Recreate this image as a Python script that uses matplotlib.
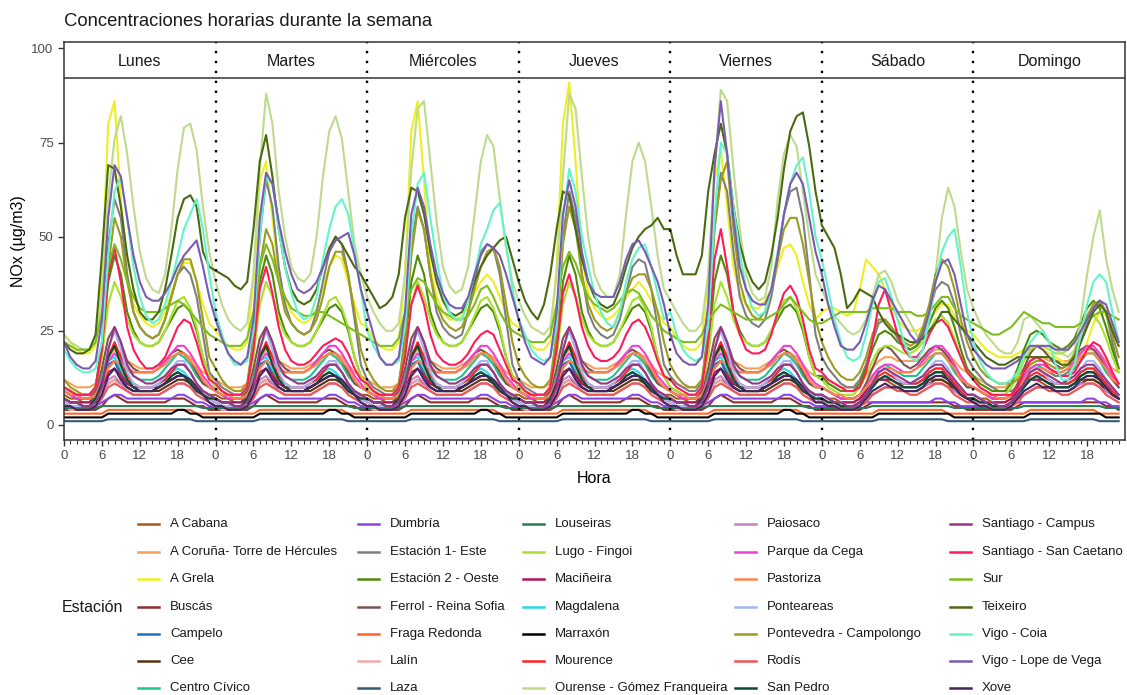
import numpy as np
import matplotlib
matplotlib.use("Agg")
import matplotlib.pyplot as plt
from matplotlib.lines import Line2D

plt.rcParams['font.family'] = ['Liberation Sans', 'DejaVu Sans']

dias = ['Lunes', 'Martes', 'Miércoles', 'Jueves', 'Viernes', 'Sábado', 'Domingo']
horas_tick = [0, 6, 12, 18]

# Full week (Mon..Sun, 24 h each) for the stations with the largest peaks
ourense_gf = [
    24, 22, 21, 20, 20, 22, 35, 60, 76, 82, 72, 58, 46, 39, 36, 35, 40, 52, 68, 79, 80, 73, 58, 46,
    38, 32, 28, 26, 25, 27, 40, 68, 88, 80, 62, 50, 42, 39, 38, 40, 50, 66, 78, 82, 76, 62, 48, 40,
    34, 30, 27, 25, 25, 27, 40, 68, 84, 86, 70, 54, 42, 37, 35, 36, 42, 56, 70, 77, 74, 60, 47, 38,
    33, 29, 26, 25, 24, 26, 40, 66, 88, 84, 66, 50, 40, 36, 34, 34, 40, 56, 70, 75, 70, 58, 45, 36,
    33, 30, 27, 25, 25, 27, 40, 68, 89, 86, 68, 52, 40, 35, 33, 34, 42, 60, 72, 77, 74, 62, 50, 40,
    36, 32, 29, 27, 25, 24, 25, 28, 34, 40, 41, 38, 33, 30, 27, 24, 22, 30, 40, 55, 63, 58, 46, 36,
    31, 27, 24, 22, 20, 19, 19, 22, 28, 29, 27, 25, 22, 20, 19, 18, 20, 28, 40, 50, 57, 44, 36, 30,
]
a_grela = [
    24, 22, 20, 19, 19, 21, 40, 80, 86, 60, 40, 32, 29, 27, 26, 27, 30, 35, 40, 43, 43, 38, 32, 27,
    25, 23, 21, 20, 20, 22, 38, 65, 70, 55, 40, 33, 30, 28, 27, 28, 31, 36, 42, 45, 44, 38, 32, 27,
    26, 23, 21, 20, 20, 22, 40, 78, 86, 65, 42, 34, 30, 28, 28, 29, 31, 35, 38, 40, 38, 34, 30, 27,
    26, 23, 21, 20, 20, 22, 42, 80, 91, 70, 45, 35, 31, 29, 28, 29, 31, 34, 36, 38, 36, 33, 30, 27,
    26, 23, 21, 20, 20, 22, 40, 65, 73, 58, 42, 35, 32, 31, 31, 33, 36, 42, 47, 48, 45, 38, 32, 28,
    30, 31, 31, 30, 29, 30, 36, 44, 42, 40, 36, 32, 28, 26, 25, 25, 26, 28, 30, 32, 32, 29, 27, 25,
    24, 22, 20, 19, 18, 18, 18, 19, 20, 21, 21, 20, 19, 18, 17, 16, 16, 18, 22, 27, 30, 29, 26, 23,
]
vigo_coia = [
    20, 17, 15, 14, 14, 15, 22, 45, 62, 66, 55, 42, 34, 29, 27, 28, 32, 38, 45, 52, 56, 60, 52, 40,
    30, 24, 19, 16, 16, 17, 25, 50, 66, 64, 52, 42, 35, 30, 28, 29, 34, 44, 52, 58, 60, 56, 46, 36,
    25, 21, 18, 16, 16, 17, 26, 50, 64, 67, 55, 44, 35, 30, 28, 28, 33, 40, 48, 52, 57, 59, 48, 36,
    28, 24, 20, 18, 17, 18, 26, 55, 68, 62, 50, 42, 35, 30, 27, 26, 30, 38, 44, 47, 48, 42, 35, 28,
    30, 24, 20, 18, 17, 18, 26, 55, 75, 72, 58, 46, 36, 31, 29, 30, 36, 46, 56, 64, 69, 71, 62, 50,
    44, 36, 28, 22, 18, 17, 18, 24, 32, 38, 39, 34, 28, 22, 18, 17, 20, 28, 38, 46, 50, 52, 42, 30,
    22, 17, 14, 12, 11, 11, 12, 14, 18, 22, 24, 25, 22, 16, 12, 12, 16, 24, 32, 38, 40, 38, 30, 22,
]
vigo_lope = [
    22, 18, 16, 15, 15, 17, 28, 55, 69, 66, 55, 45, 38, 34, 33, 33, 35, 38, 42, 45, 47, 49, 42, 34,
    28, 23, 19, 17, 16, 18, 28, 55, 67, 64, 54, 46, 40, 36, 35, 36, 38, 42, 46, 49, 50, 51, 45, 36,
    30, 24, 18, 16, 16, 18, 30, 56, 63, 58, 48, 40, 35, 32, 31, 31, 34, 40, 45, 48, 47, 45, 40, 34,
    28, 22, 18, 17, 16, 18, 30, 56, 65, 58, 46, 38, 35, 34, 34, 34, 38, 44, 48, 49, 46, 42, 38, 32,
    24, 19, 17, 16, 16, 18, 32, 68, 86, 72, 55, 42, 36, 33, 32, 32, 36, 45, 56, 64, 67, 64, 55, 46,
    40, 32, 26, 21, 20, 20, 22, 27, 33, 37, 36, 33, 30, 27, 24, 22, 24, 30, 38, 43, 44, 40, 32, 24,
    20, 18, 16, 15, 15, 15, 16, 17, 19, 21, 21, 21, 21, 20, 20, 20, 22, 25, 28, 31, 33, 32, 27, 22,
]
teixeiro = [
    22, 20, 19, 19, 20, 24, 45, 69, 68, 58, 45, 36, 30, 28, 28, 30, 36, 45, 55, 60, 61, 58, 46, 42,
    41, 40, 39, 37, 36, 38, 52, 70, 77, 66, 52, 42, 36, 33, 32, 33, 36, 42, 47, 50, 48, 45, 42, 40,
    37, 34, 31, 32, 34, 40, 55, 63, 62, 56, 46, 38, 33, 30, 29, 30, 33, 38, 42, 45, 47, 49, 50, 44,
    38, 33, 30, 28, 32, 40, 52, 62, 61, 52, 44, 38, 34, 32, 31, 32, 36, 42, 47, 50, 52, 53, 55, 52,
    52, 45, 40, 40, 40, 45, 62, 72, 80, 72, 58, 48, 42, 38, 36, 38, 45, 55, 68, 78, 82, 83, 74, 62,
    53, 50, 47, 40, 31, 33, 36, 35, 34, 30, 27, 25, 24, 23, 22, 22, 23, 25, 27, 30, 30, 28, 26, 24,
    22, 20, 18, 17, 16, 16, 17, 18, 18, 18, 18, 18, 18, 17, 16, 16, 18, 22, 26, 30, 32, 30, 25, 21,
]
pontevedra = [
    12, 10, 9, 8, 8, 10, 20, 42, 55, 50, 38, 30, 26, 24, 23, 24, 28, 34, 40, 44, 44, 38, 28, 18,
    15, 12, 10, 9, 9, 11, 22, 42, 52, 48, 38, 30, 27, 25, 24, 25, 28, 34, 42, 46, 46, 40, 30, 20,
    15, 12, 10, 9, 9, 11, 22, 45, 57, 52, 40, 32, 28, 26, 25, 26, 30, 36, 42, 46, 47, 42, 32, 22,
    16, 13, 11, 10, 10, 12, 24, 48, 58, 52, 40, 32, 28, 26, 25, 26, 30, 35, 39, 40, 40, 36, 30, 22,
    16, 13, 11, 10, 10, 12, 24, 52, 65, 70, 52, 38, 32, 29, 28, 30, 36, 44, 52, 55, 55, 48, 38, 28,
    22, 18, 15, 13, 12, 12, 14, 18, 24, 28, 28, 26, 24, 22, 21, 22, 26, 32, 40, 44, 42, 36, 28, 22,
    18, 15, 13, 12, 11, 11, 11, 12, 14, 16, 17, 17, 16, 15, 15, 16, 19, 24, 29, 32, 33, 30, 24, 18,
]
estacion1 = [
    10, 9, 8, 8, 8, 10, 22, 48, 60, 55, 40, 30, 26, 24, 23, 24, 28, 34, 40, 42, 40, 34, 24, 14,
    12, 10, 9, 8, 8, 10, 24, 50, 65, 58, 42, 32, 27, 25, 24, 25, 30, 38, 46, 50, 48, 40, 28, 16,
    12, 10, 9, 8, 8, 10, 24, 48, 58, 52, 40, 30, 26, 24, 23, 24, 30, 38, 46, 48, 47, 40, 28, 16,
    12, 10, 9, 8, 8, 10, 24, 50, 62, 55, 40, 30, 26, 24, 23, 24, 28, 35, 42, 44, 43, 36, 26, 16,
    13, 11, 10, 9, 9, 11, 26, 52, 67, 62, 46, 34, 29, 27, 26, 28, 34, 44, 56, 62, 63, 55, 40, 24,
    18, 15, 13, 11, 10, 10, 12, 16, 22, 27, 28, 26, 23, 21, 20, 21, 25, 30, 36, 38, 37, 32, 24, 18,
    15, 13, 11, 10, 9, 9, 9, 10, 12, 14, 15, 15, 14, 13, 13, 14, 17, 22, 27, 31, 33, 30, 22, 15,
]
sur = [
    22, 21, 20, 20, 20, 22, 30, 42, 48, 44, 38, 34, 31, 30, 30, 30, 31, 32, 33, 32, 30, 28, 26, 24,
    23, 22, 21, 21, 21, 23, 30, 42, 48, 44, 38, 34, 31, 30, 29, 29, 30, 30, 29, 28, 27, 26, 25, 24,
    23, 22, 21, 21, 21, 23, 30, 36, 39, 38, 35, 32, 30, 29, 28, 28, 29, 32, 36, 37, 34, 30, 27, 25,
    24, 23, 22, 22, 22, 24, 32, 42, 46, 43, 38, 34, 32, 31, 30, 31, 33, 35, 36, 35, 32, 29, 27, 25,
    24, 23, 22, 22, 22, 24, 28, 30, 32, 31, 30, 29, 28, 28, 28, 28, 29, 30, 32, 34, 32, 30, 28, 27,
    27, 28, 29, 30, 30, 30, 30, 30, 31, 31, 31, 31, 30, 30, 30, 29, 29, 30, 32, 34, 34, 31, 29, 28,
    27, 26, 25, 24, 24, 25, 26, 28, 30, 29, 28, 27, 27, 26, 26, 26, 26, 27, 28, 29, 30, 30, 29, 28,
]
san_caetano = [
    10, 9, 8, 8, 8, 10, 20, 40, 47, 38, 26, 20, 17, 15, 15, 16, 18, 22, 26, 28, 27, 22, 16, 12,
    11, 9, 8, 8, 8, 10, 20, 36, 42, 35, 26, 20, 17, 16, 16, 17, 19, 21, 22, 23, 22, 19, 15, 12,
    11, 9, 8, 8, 8, 10, 18, 32, 37, 32, 24, 19, 17, 16, 16, 17, 19, 22, 24, 25, 24, 20, 16, 12,
    11, 9, 8, 8, 8, 10, 20, 35, 40, 34, 26, 21, 18, 17, 17, 18, 20, 24, 27, 28, 26, 22, 17, 13,
    12, 10, 9, 8, 8, 10, 22, 44, 52, 42, 30, 24, 20, 19, 19, 20, 24, 30, 35, 37, 34, 28, 20, 15,
    14, 12, 11, 10, 9, 9, 10, 14, 22, 32, 36, 30, 24, 20, 18, 18, 20, 24, 27, 28, 26, 22, 18, 14,
    12, 10, 9, 8, 8, 8, 8, 10, 14, 17, 18, 17, 15, 14, 13, 13, 14, 17, 20, 22, 21, 18, 14, 11,
]

# Remaining stations: typical working day (lab) and weekend day (fin)
a_cabana_lab = [8, 7, 7, 6, 6, 8, 12, 16, 17, 14, 11, 10, 9, 9, 9, 10, 11, 12, 13, 13, 12, 10, 9, 8]
a_cabana_fin = [8, 7, 7, 6, 6, 6, 7, 9, 11, 12, 12, 11, 10, 10, 10, 10, 11, 12, 12, 12, 11, 10, 9, 8]
coruna_lab = [12, 11, 10, 10, 10, 11, 14, 18, 20, 19, 17, 16, 15, 15, 15, 16, 17, 18, 19, 19, 18, 16, 14, 13]
coruna_fin = [13, 12, 11, 10, 10, 10, 11, 13, 15, 17, 18, 18, 17, 17, 17, 17, 18, 19, 20, 20, 19, 17, 15, 14]
buscas_lab = [4, 4, 4, 4, 4, 4, 5, 7, 8, 7, 6, 6, 6, 6, 6, 6, 6, 7, 7, 7, 6, 5, 5, 4]
buscas_fin = [4, 4, 4, 4, 4, 4, 4, 5, 6, 6, 6, 6, 6, 6, 6, 6, 6, 6, 6, 6, 6, 5, 5, 4]
campelo_lab = [6, 5, 5, 5, 5, 6, 10, 16, 17, 13, 10, 9, 9, 9, 9, 10, 11, 13, 14, 13, 11, 9, 8, 7]
campelo_fin = [7, 6, 6, 5, 5, 5, 6, 8, 10, 12, 13, 12, 11, 10, 10, 10, 11, 12, 13, 13, 12, 10, 8, 7]
cee_lab = [7, 6, 6, 5, 5, 6, 8, 11, 12, 11, 10, 9, 9, 9, 9, 9, 10, 11, 12, 12, 11, 9, 8, 7]
cee_fin = [7, 6, 6, 5, 5, 5, 6, 7, 8, 9, 10, 10, 10, 9, 9, 9, 10, 11, 12, 12, 11, 9, 8, 7]
civico_lab = [9, 8, 7, 7, 7, 8, 13, 19, 21, 18, 15, 13, 12, 12, 12, 13, 15, 17, 19, 18, 16, 13, 11, 10]
civico_fin = [10, 9, 8, 7, 7, 7, 8, 10, 13, 15, 16, 15, 14, 13, 13, 13, 15, 17, 19, 19, 17, 14, 12, 10]
dumbria_lab = [5, 5, 5, 5, 5, 5, 6, 7, 8, 8, 7, 7, 7, 7, 7, 7, 7, 7, 8, 8, 7, 6, 6, 5]
dumbria_fin = [5, 5, 5, 5, 5, 5, 5, 6, 6, 6, 6, 6, 6, 6, 6, 6, 6, 6, 7, 7, 6, 6, 5, 5]
estacion2_lab = [10, 9, 8, 8, 8, 10, 20, 38, 45, 40, 30, 25, 22, 21, 21, 22, 25, 28, 31, 32, 30, 25, 18, 13]
estacion2_fin = [13, 11, 10, 9, 9, 9, 11, 15, 20, 24, 25, 24, 22, 21, 20, 21, 23, 27, 31, 33, 31, 26, 20, 15]
ferrol_lab = [9, 8, 7, 7, 7, 9, 15, 23, 26, 22, 17, 15, 14, 14, 14, 15, 17, 19, 20, 19, 17, 14, 11, 10]
ferrol_fin = [10, 9, 8, 7, 7, 7, 8, 11, 15, 19, 21, 20, 18, 16, 15, 16, 18, 20, 21, 20, 18, 15, 12, 10]
fraga_lab = [3, 3, 3, 3, 3, 3, 3, 4, 4, 4, 4, 4, 4, 4, 4, 4, 4, 4, 4, 4, 4, 3, 3, 3]
fraga_fin = [3, 3, 3, 3, 3, 3, 3, 3, 3, 4, 4, 4, 4, 4, 4, 4, 4, 4, 4, 4, 3, 3, 3, 3]
lalin_lab = [5, 4, 4, 4, 4, 5, 8, 11, 12, 10, 9, 8, 8, 8, 8, 8, 9, 10, 11, 11, 10, 8, 7, 6]
lalin_fin = [6, 5, 5, 4, 4, 4, 5, 6, 8, 9, 10, 10, 9, 9, 8, 8, 9, 10, 11, 11, 10, 8, 7, 6]
laza_lab = [1, 1, 1, 1, 1, 1, 1, 1.5, 1.5, 1.5, 1.5, 1.5, 1.5, 1.5, 1.5, 1.5, 1.5, 1.5, 1.5, 1.5, 1.5, 1, 1, 1]
laza_fin = [1, 1, 1, 1, 1, 1, 1, 1, 1, 1.5, 1.5, 1.5, 1.5, 1.5, 1.5, 1.5, 1.5, 1.5, 1.5, 1.5, 1, 1, 1, 1]
louseiras_lab = [4.5, 4.5, 4.5, 4.5, 4.5, 4.5, 5, 5, 5, 5, 5, 5, 5, 5, 5, 5, 5, 5, 5, 5, 5, 5, 4.5, 4.5]
louseiras_fin = [4.5, 4.5, 4.5, 4.5, 4.5, 4.5, 4.5, 4.5, 5, 5, 5, 5, 5, 5, 5, 5, 5, 5, 5, 5, 5, 4.5, 4.5, 4.5]
lugo_lab = [10, 9, 8, 8, 8, 10, 18, 32, 38, 34, 28, 24, 22, 21, 21, 22, 25, 29, 33, 34, 31, 26, 18, 13]
lugo_fin = [12, 10, 9, 8, 8, 8, 10, 13, 17, 20, 21, 21, 20, 19, 19, 20, 22, 25, 28, 29, 27, 23, 18, 14]
macineira_lab = [7, 6, 6, 6, 6, 7, 10, 14, 15, 13, 11, 10, 10, 10, 10, 10, 11, 12, 13, 13, 12, 10, 9, 8]
macineira_fin = [8, 7, 6, 6, 6, 6, 7, 9, 11, 12, 12, 12, 11, 11, 11, 11, 12, 13, 14, 14, 13, 11, 9, 8]
magdalena_lab = [7, 6, 6, 5, 5, 7, 11, 17, 18, 15, 12, 11, 10, 10, 10, 11, 12, 14, 15, 14, 12, 10, 9, 8]
magdalena_fin = [8, 7, 6, 6, 5, 5, 6, 8, 10, 12, 13, 13, 12, 11, 11, 11, 12, 14, 15, 15, 13, 11, 9, 8]
marraxon_lab = [2, 2, 2, 2, 2, 2, 2, 3, 3, 3, 3, 3, 3, 3, 3, 3, 3, 3, 4, 4, 3, 3, 2, 2]
marraxon_fin = [2, 2, 2, 2, 2, 2, 2, 2, 2, 3, 3, 3, 3, 3, 3, 3, 3, 3, 3, 3, 3, 2, 2, 2]
mourence_lab = [6, 5, 5, 5, 5, 6, 10, 18, 22, 18, 13, 11, 10, 10, 10, 11, 12, 14, 16, 16, 14, 11, 9, 7]
mourence_fin = [7, 6, 5, 5, 5, 5, 6, 8, 11, 13, 14, 13, 12, 11, 11, 11, 12, 14, 15, 15, 13, 11, 9, 7]
paiosaco_lab = [6, 5, 5, 5, 5, 6, 8, 12, 13, 11, 9, 8, 8, 8, 8, 8, 9, 10, 11, 11, 10, 9, 8, 7]
paiosaco_fin = [6, 6, 5, 5, 5, 5, 6, 7, 8, 9, 10, 10, 9, 9, 9, 9, 10, 11, 11, 11, 10, 9, 8, 7]
cega_lab = [9, 8, 7, 7, 7, 8, 12, 17, 19, 17, 15, 14, 14, 14, 14, 15, 17, 19, 21, 21, 19, 16, 13, 11]
cega_fin = [10, 9, 8, 7, 7, 7, 8, 10, 13, 15, 16, 16, 15, 14, 14, 15, 17, 19, 21, 21, 19, 16, 13, 11]
pastoriza_lab = [9, 8, 8, 7, 7, 8, 11, 15, 17, 16, 15, 14, 14, 14, 14, 15, 16, 18, 19, 19, 17, 15, 12, 10]
pastoriza_fin = [10, 9, 8, 8, 7, 7, 8, 10, 12, 14, 15, 15, 14, 14, 14, 15, 16, 18, 19, 19, 17, 15, 12, 11]
ponteareas_lab = [6, 5, 5, 5, 5, 6, 10, 20, 25, 20, 14, 11, 10, 10, 10, 11, 13, 15, 17, 17, 14, 11, 9, 7]
ponteareas_fin = [8, 7, 6, 6, 5, 5, 6, 8, 11, 14, 15, 14, 12, 11, 11, 12, 13, 15, 17, 17, 15, 12, 10, 8]
rodis_lab = [5, 5, 4, 4, 4, 5, 7, 10, 11, 10, 9, 8, 8, 8, 8, 8, 9, 10, 11, 11, 10, 8, 7, 6]
rodis_fin = [6, 5, 5, 4, 4, 4, 5, 6, 8, 9, 10, 10, 9, 9, 8, 8, 9, 10, 11, 11, 10, 8, 7, 6]
san_pedro_lab = [7, 6, 6, 5, 5, 7, 11, 18, 21, 16, 12, 10, 9, 9, 9, 10, 11, 13, 14, 13, 11, 9, 8, 7]
san_pedro_fin = [7, 6, 6, 5, 5, 5, 6, 8, 10, 12, 13, 12, 11, 10, 10, 10, 11, 13, 14, 14, 12, 10, 8, 7]
campus_lab = [7, 6, 6, 5, 5, 6, 10, 20, 26, 22, 16, 13, 12, 11, 11, 12, 13, 15, 16, 16, 14, 11, 9, 8]
campus_fin = [8, 7, 6, 6, 5, 5, 6, 8, 11, 14, 15, 14, 13, 12, 11, 12, 13, 15, 16, 16, 14, 12, 10, 8]
xove_lab = [5, 5, 4, 4, 4, 5, 8, 13, 15, 12, 10, 9, 9, 9, 9, 10, 11, 12, 13, 13, 12, 10, 8, 6]
xove_fin = [6, 5, 5, 4, 4, 4, 5, 7, 9, 10, 11, 10, 10, 9, 9, 9, 10, 12, 13, 13, 12, 10, 8, 7]


def semana(lab, fin):
    # five working days followed by Saturday and Sunday
    return lab * 5 + fin * 2


estaciones = [
    ('A Cabana', '#A6581C', semana(a_cabana_lab, a_cabana_fin)),
    ('A Coruña- Torre de Hércules', '#F9A05A', semana(coruna_lab, coruna_fin)),
    ('A Grela', '#EEEE22', a_grela),
    ('Buscás', '#8E2F2F', semana(buscas_lab, buscas_fin)),
    ('Campelo', '#1F6FC9', semana(campelo_lab, campelo_fin)),
    ('Cee', '#5A3210', semana(cee_lab, cee_fin)),
    ('Centro Cívico', '#21C28E', semana(civico_lab, civico_fin)),
    ('Dumbría', '#8B45E6', semana(dumbria_lab, dumbria_fin)),
    ('Estación 1- Este', '#7F7F7F', estacion1),
    ('Estación 2 - Oeste', '#4D8A0A', semana(estacion2_lab, estacion2_fin)),
    ('Ferrol - Reina Sofia', '#7E5252', semana(ferrol_lab, ferrol_fin)),
    ('Fraga Redonda', '#FF6424', semana(fraga_lab, fraga_fin)),
    ('Lalín', '#F6A8A8', semana(lalin_lab, lalin_fin)),
    ('Laza', '#35597A', semana(laza_lab, laza_fin)),
    ('Louseiras', '#2A7A5A', semana(louseiras_lab, louseiras_fin)),
    ('Lugo - Fingoi', '#A8E22A', semana(lugo_lab, lugo_fin)),
    ('Maciñeira', '#B3145E', semana(macineira_lab, macineira_fin)),
    ('Magdalena', '#2AD7EF', semana(magdalena_lab, magdalena_fin)),
    ('Marraxón', '#000000', semana(marraxon_lab, marraxon_fin)),
    ('Mourence', '#FF2222', semana(mourence_lab, mourence_fin)),
    ('Ourense - Gómez Franqueira', '#BDDB8A', ourense_gf),
    ('Paiosaco', '#CB7FC0', semana(paiosaco_lab, paiosaco_fin)),
    ('Parque da Cega', '#F23FD2', semana(cega_lab, cega_fin)),
    ('Pastoriza', '#FF8246', semana(pastoriza_lab, pastoriza_fin)),
    ('Ponteareas', '#A3B5F2', semana(ponteareas_lab, ponteareas_fin)),
    ('Pontevedra - Campolongo', '#9C9C22', pontevedra),
    ('Rodís', '#EE5757', semana(rodis_lab, rodis_fin)),
    ('San Pedro', '#104A2C', semana(san_pedro_lab, san_pedro_fin)),
    ('Santiago - Campus', '#9B3586', semana(campus_lab, campus_fin)),
    ('Santiago - San Caetano', '#FF1A5A', san_caetano),
    ('Sur', '#7DBE1E', sur),
    ('Teixeiro', '#4A6A10', teixeiro),
    ('Vigo - Coia', '#63F5C9', vigo_coia),
    ('Vigo - Lope de Vega', '#7A5AB3', vigo_lope),
    ('Xove', '#40275F', semana(xove_lab, xove_fin)),
]

W, H = 1127, 695
fig = plt.figure(figsize=(W / 100, H / 100), dpi=100)
ax = fig.add_axes([64 / W, 1 - 440 / H, (1125 - 64) / W, (440 - 42) / H])

horas = np.arange(7 * 24)
for nombre, color, serie in estaciones:
    ax.plot(horas, serie, color=color, lw=1.5, zorder=2)

ax.set_xlim(0, 168)
ax.set_ylim(-4, 101.7)

# strip with the day names, drawn over the top of the panel
strip_bottom = 92.1
ax.axhspan(strip_bottom, 102, color='white', zorder=3)
ax.axhline(strip_bottom, color='#333333', lw=1.1, zorder=4)
for d, dia in enumerate(dias):
    ax.text(d * 24 + 12, 96.6, dia, ha='center', va='center', fontsize=11.5,
            color='#1A1A1A', zorder=6)
for d in range(1, 7):
    ax.axvline(d * 24, color='black', lw=1.7, ls=(0, (1, 3.2)), zorder=5)

for s in ax.spines.values():
    s.set_color('#333333')
    s.set_linewidth(1.1)
    s.set_zorder(7)

ax.set_yticks([0, 25, 50, 75, 100])
ax.set_xticks([d * 24 + h for d in range(7) for h in horas_tick])
ax.set_xticklabels([str(h) for d in range(7) for h in horas_tick])
ax.set_xticks(horas, minor=True)
ax.tick_params(axis='both', which='major', labelsize=9.5, labelcolor='#4D4D4D',
               color='#333333', length=4, width=1)
ax.tick_params(axis='x', which='minor', color='#333333', length=3, width=0.8)

ax.set_xlabel('Hora', fontsize=11.5, labelpad=6)
ax.set_ylabel('NOx (µg/m3)', fontsize=11.5, labelpad=4)

fig.text(64 / W, 1 - 21 / H, 'Concentraciones horarias durante la semana',
         fontsize=13.3, va='center', ha='left', color='#1A1A1A')

# legend laid out in five columns of seven rows
fig.text(62 / W, 1 - 607 / H, 'Estación', fontsize=11.5, va='center', ha='left', color='#1A1A1A')
col_x = [138, 358, 523, 735, 950]
row_y = [524, 552, 579, 607, 634, 661, 688]
for i, (nombre, color, _) in enumerate(estaciones):
    cx, cy = col_x[i // 7], row_y[i % 7]
    fig.add_artist(Line2D([cx / W, (cx + 21) / W], [1 - cy / H, 1 - cy / H],
                          color=color, lw=1.8, transform=fig.transFigure))
    fig.text((cx + 32) / W, 1 - cy / H, nombre, fontsize=9.5, va='center', ha='left',
             color='#1A1A1A')

fig.savefig('out.png', dpi=100)
